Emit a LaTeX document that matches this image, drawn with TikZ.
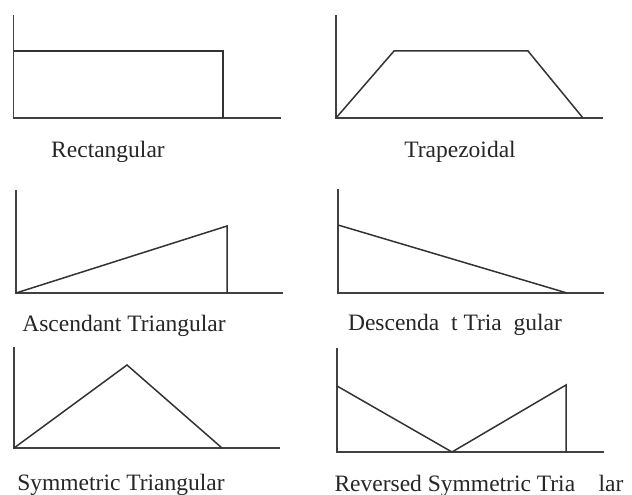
\documentclass[tikz,border=0pt]{standalone}
\usepackage{fontspec}
\setmainfont{Liberation Serif}
\begin{document}
\begin{tikzpicture}[x=1pt,y=-1pt,
  curve/.style={draw=black!80, line width=1.5pt, line join=miter},
  axis/.style={draw=black!75, line width=1.6pt},
  lbl/.style={anchor=base, font=\fontsize{23.5}{28}\selectfont, text=black!85, inner sep=0pt}]
\useasboundingbox (0,0) rectangle (632,495);
% Rectangular
\draw[axis] (13.5,15) -- (13.5,118) -- (281,118);
\draw[curve] (13.5,51) -- (223,51) -- (223,118);
\node[lbl] (l1) at (108,157) {Rectangular};
% Trapezoidal
\draw[axis] (336,15) -- (336,118) -- (603,118);
\draw[curve] (336,118) -- (394,51) -- (528,51) -- (583,118);
\node[lbl] (l2) at (460,157) {Trapezoidal};
% Ascendant
\draw[axis] (16,190) -- (16,293) -- (283,293);
\draw[curve] (16,293) -- (227,226) -- (227,293);
\node[lbl] (l3) at (124,331) {Ascendant Triangular};
% Descendant
\draw[axis] (338,189) -- (338,293) -- (604,293);
\draw[curve] (338,225) -- (567,293);
\node[lbl] (l4) at (455,330) {Descenda\phantom{n}t Tria\phantom{n}gular};
% Symmetric
\draw[axis] (14,347) -- (14,448) -- (280,448);
\draw[curve] (14,448) -- (127,365) -- (222,448);
\node[lbl] (l5) at (121,490) {Symmetric Triangular};
% Reversed symmetric
\draw[axis] (337,348) -- (337,452) -- (604,452);
\draw[curve] (337,386) -- (452,452) -- (566,385) -- (566,452);
\node[lbl] (l6) at (479,491) {Reversed Symmetric Tria\phantom{ng}lar};
\end{tikzpicture}
\end{document}
